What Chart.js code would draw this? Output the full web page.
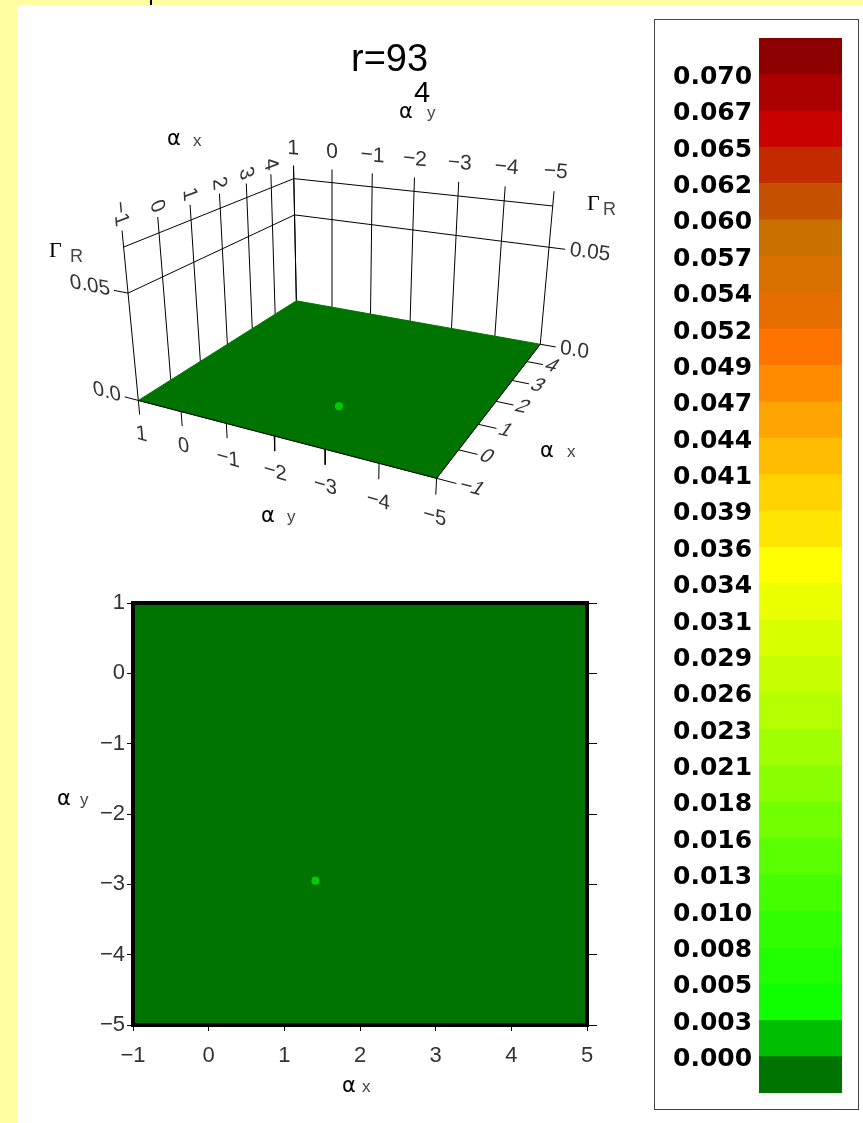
<!DOCTYPE html>
<html>
<head>
<meta charset="utf-8">
<script src="https://cdn.jsdelivr.net/npm/chart.js@4.4.1/dist/chart.umd.min.js"></script>
<style>
  html, body { margin: 0; padding: 0; background: #ffffa0; }
  body { width: 863px; height: 1123px; position: relative; overflow: hidden; }
  #sheet { position: absolute; left: 17px; top: 5px; right: 0; bottom: 0; background: #fff; }
  #mark { position: absolute; left: 150px; top: 0; width: 2px; height: 5px; background: #000; }
  canvas { position: absolute; }
  #surf { left: 0; top: 0; }
  #map { left: 0; top: 575px; }
  #keybox { position: absolute; left: 654px; top: 19px; width: 203px; height: 1089px; border: 1px solid #444; background: #fff; }
  #key { left: 0; top: 0; }
</style>
</head>
<body>
<div id="sheet"></div>
<div id="mark"></div>
<canvas id="surf" width="650" height="575"></canvas>
<canvas id="map" width="650" height="548"></canvas>
<div id="keybox"><canvas id="key" width="203" height="1089"></canvas></div>

<script>
// axes of the (alpha_x, alpha_y) window
const alphaXTicks = [-1, 0, 1, 2, 3, 4, 5];
const alphaYTicks = [1, 0, -1, -2, -3, -4, -5];
const gammaTicks = [0.0, 0.05];
const gammaTickLabels = ['0.0', '0.05'];
const gammaTop = 0.07;

// Gamma_R over the window: flat
const surfaceGamma = 0.0;

// marked point
const markAlphaX = [1.41];
const markAlphaY = [-2.95];
const markAlphaX3d = [0.5];
const markAlphaY3d = [-2.49];

const titleMain = 'r=93';
const titleTail = '4';

// colour key: level boundaries and band colours (bottom band first)
const keyLevels = [0.000, 0.003, 0.005, 0.008, 0.010, 0.013, 0.016, 0.018, 0.021, 0.023,
  0.026, 0.029, 0.031, 0.034, 0.036, 0.039, 0.041, 0.044, 0.047, 0.049,
  0.052, 0.054, 0.057, 0.060, 0.062, 0.065, 0.067, 0.070];
const keyColors = ['#007400', '#00be00', '#10ff00', '#20ff00', '#30ff00', '#44ff00', '#5aff00',
  '#72ff00', '#8aff00', '#a0ff00', '#b4ff00', '#c6ff00', '#d8ff00', '#eaff00', '#ffff00',
  '#ffe600', '#ffd200', '#ffbc00', '#ffa400', '#ff8c00', '#ff7400', '#e66e00', '#d87000',
  '#c87000', '#c45000', '#c42a00', '#c80000', '#aa0000', '#8c0000'];

function levelColor(g) {
  let i = 0;
  while (i < keyLevels.length && keyLevels[i] < g) i++;
  return keyColors[i];
}

const fmt = v => (v < 0 ? '\u2212' : '') + Math.abs(v);
const tickFont = '21px "Liberation Sans"';
const tickInk = '#333';
const ink = '#000';

// ---------- perspective box ----------
const xLo = alphaXTicks[0], xHi = alphaXTicks[alphaXTicks.length - 1];
const yHi = alphaYTicks[0], yLo = alphaYTicks[alphaYTicks.length - 1];
const U = ax => (ax - xLo) / (xHi - xLo);
const V = ay => (yHi - ay) / (yHi - yLo);
const W = g => g / gammaTop;

// projective camera: unit box (u, v, w) -> canvas pixels
const cam = { a: 246.4, b: 230.6, c: 136, d: -13.1, e: 0.65, f: 402, g: 0.2919, h: -0.1629, kx: -23, ky: -172, m: -0.067 };
function proj(u, v, w) {
  const den = 1 + cam.g * u + cam.h * v + cam.m * w;
  return { x: (cam.a * u + cam.b * v + cam.c + cam.kx * w) / den,
           y: (cam.d * u + cam.e * v + cam.f + cam.ky * w) / den };
}

const surfSets = [];
function line3d(pts, order) {
  surfSets.push({ data: pts.map(p => proj(p[0], p[1], p[2])), borderColor: ink, borderWidth: 1,
    pointRadius: 0, fill: false, tension: 0, order });
}

// back walls
alphaXTicks.forEach(ax => line3d([[U(ax), 0, 0], [U(ax), 0, 1.1]], 5));
alphaYTicks.forEach(ay => line3d([[1, V(ay), 0], [1, V(ay), 1.1]], 5));
gammaTicks.filter(g => g > 0).map(W).concat([1]).forEach(w => line3d([[0, 0, w], [1, 0, w], [1, 1, w]], 5));
gammaTicks.forEach(g => {
  line3d([[0, 0, W(g)], [0, -0.055, W(g)]], 5);
  line3d([[1, 1, W(g)], [1, 1.055, W(g)]], 5);
});

// surface
const surfColor = levelColor(surfaceGamma);
surfSets.push({
  data: [[0, 0], [1, 0], [1, 1], [0, 1], [0, 0]].map(p => proj(p[0], p[1], W(surfaceGamma))),
  fill: 'shape', backgroundColor: surfColor, borderColor: surfColor, borderWidth: 1,
  pointRadius: 0, tension: 0, order: 3
});

// front edges and their ticks
line3d([[0, 0, 0], [0, 1, 0], [1, 1, 0]], 2);
alphaYTicks.forEach(ay => line3d([[0, V(ay), 0], [0, V(ay), -0.1]], 2));
alphaXTicks.slice(0, -1).forEach(ax => line3d([[U(ax), 1, 0], [U(ax), 1.055, 0]], 2));

surfSets.push({
  data: markAlphaX3d.map((x, i) => proj(U(x), V(markAlphaY3d[i]), W(surfaceGamma))),
  showLine: false, pointRadius: 4, pointBackgroundColor: '#00cc00', pointBorderWidth: 0, order: 0
});

function pairLabel(ctx, x, y, main, mainFont, sub, subFont, sx, sy) {
  ctx.save();
  ctx.textAlign = 'left';
  ctx.textBaseline = 'alphabetic';
  ctx.font = mainFont; ctx.fillStyle = '#000';
  ctx.fillText(main, x, y);
  ctx.font = subFont; ctx.fillStyle = '#444';
  ctx.fillText(sub, x + sx, y + sy);
  ctx.restore();
}
const alphaFont = '21px "DejaVu Sans"';
const subFont = '17px "Liberation Sans"';

const surfText = {
  id: 'surfText',
  afterDatasetsDraw(chart) {
    const ctx = chart.ctx, sx = chart.scales.x, sy = chart.scales.y;
    const px = p => ({ x: sx.getPixelForValue(p.x), y: sy.getPixelForValue(p.y) });
    function put(str, at, dirX, dirDown, align) {
      const o = px(proj(at[0], at[1], at[2]));
      const unit = d => {
        const q = px(proj(at[0] + d[0] * 0.01, at[1] + d[1] * 0.01, at[2] + d[2] * 0.01));
        const dx = q.x - o.x, dy = q.y - o.y, n = Math.hypot(dx, dy);
        return { x: dx / n, y: dy / n };
      };
      const ex = unit(dirX), ed = unit(dirDown);
      ctx.save();
      ctx.transform(ex.x, ex.y, ed.x, ed.y, o.x, o.y);
      ctx.font = tickFont; ctx.fillStyle = tickInk;
      ctx.textAlign = align; ctx.textBaseline = 'middle';
      ctx.fillText(str, 0, 0);
      ctx.restore();
    }
    // alpha_x along the left wall top and along the right edge
    alphaXTicks.slice(0, -1).forEach(ax => {
      put(fmt(ax), [U(ax), 0, 1.13], [0, 0, -1], [-1, 0, 0], 'right');
      put(fmt(ax), [U(ax), 1.065, 0], [0, 1, 0], [-1, 0, 0], 'left');
    });
    // alpha_y along the right wall top and along the front edge
    alphaYTicks.forEach(ay => {
      put(fmt(ay), [1, V(ay), 1.23], [0, 1, 0], [0, 0, -1], 'center');
      put(fmt(ay), [0, V(ay), -0.24], [0, 1, 0], [0, 0, -1], 'center');
    });
    // Gamma_R ticks
    gammaTicks.forEach((g, i) => {
      put(gammaTickLabels[i], [0, -0.07, W(g)], [0, 1, 0], [0, 0, -1], 'right');
      put(gammaTickLabels[i], [1, 1.07, W(g)], [0, 1, 0], [0, 0, -1], 'left');
    });

    ctx.save();
    ctx.fillStyle = '#000';
    ctx.textAlign = 'left';
    ctx.textBaseline = 'alphabetic';
    ctx.font = '38px "Liberation Sans"';
    ctx.fillText(titleMain, 351, 71);
    ctx.font = '29px "Liberation Sans"';
    ctx.fillText(titleTail, 414, 102);
    ctx.restore();

    pairLabel(ctx, 399, 118, '\u03b1', alphaFont, 'y', subFont, 28, 0);
    pairLabel(ctx, 167, 145, '\u03b1', alphaFont, 'x', subFont, 26, 1);
    pairLabel(ctx, 540, 457, '\u03b1', alphaFont, 'x', subFont, 27, 0);
    pairLabel(ctx, 261, 522, '\u03b1', alphaFont, 'y', subFont, 26, 0);
    pairLabel(ctx, 49, 257, '\u0393', '22px "Liberation Serif"', 'R', '18px "Liberation Sans"', 21, 5);
    pairLabel(ctx, 587, 210, '\u0393', '22px "Liberation Serif"', 'R', '18px "Liberation Sans"', 16, 5);
  }
};

new Chart(document.getElementById('surf'), {
  type: 'line',
  data: { datasets: surfSets },
  options: {
    responsive: false, animation: false, events: [],
    layout: { padding: 0 },
    scales: {
      x: { type: 'linear', display: false, min: 0, max: 650 },
      y: { type: 'linear', display: false, min: 0, max: 575, reverse: true }
    },
    plugins: { legend: { display: false }, tooltip: { enabled: false } }
  },
  plugins: [surfText]
});

// ---------- flat map ----------
const mapFrame = {
  id: 'mapFrame',
  afterDatasetsDraw(chart) {
    const ctx = chart.ctx, a = chart.chartArea;
    ctx.save();
    ctx.strokeStyle = '#000';
    ctx.lineWidth = 4;
    ctx.strokeRect(a.left, a.top, a.right - a.left, a.bottom - a.top);
    ctx.restore();
    pairLabel(ctx, 342, 517, '\u03b1', alphaFont, 'x', subFont, 20, 0);
    pairLabel(ctx, 57, 230, '\u03b1', alphaFont, 'y', subFont, 23, 0);
  }
};

const axisTicks = { stepSize: 1, color: tickInk, font: { family: 'Liberation Sans', size: 22 }, callback: fmt };

new Chart(document.getElementById('map'), {
  type: 'line',
  data: {
    datasets: [
      { data: markAlphaX.map((x, i) => ({ x, y: markAlphaY[i] })), showLine: false, pointRadius: 4,
        pointBackgroundColor: '#00cc00', pointBorderWidth: 0, order: 0 },
      { data: [{ x: xLo, y: yLo }, { x: xHi, y: yLo }, { x: xHi, y: yHi }, { x: xLo, y: yHi }, { x: xLo, y: yLo }],
        fill: 'shape', backgroundColor: surfColor, borderColor: surfColor, borderWidth: 1,
        pointRadius: 0, tension: 0, order: 1 }
    ]
  },
  options: {
    responsive: false, animation: false, events: [],
    layout: { padding: { left: 0, right: 53, top: 28, bottom: 0 } },
    scales: {
      x: { type: 'linear', position: 'bottom', min: xLo, max: xHi,
           ticks: Object.assign({ padding: 12 }, axisTicks),
           grid: { drawOnChartArea: false, tickLength: 6, color: '#000', tickColor: '#000' },
           border: { display: false },
           afterFit: s => { s.height = 98; } },
      y: { type: 'linear', position: 'left', min: yLo, max: yHi,
           ticks: Object.assign({ padding: 2 }, axisTicks),
           grid: { drawOnChartArea: false, tickLength: 6, color: '#000', tickColor: '#000' },
           border: { display: false },
           afterFit: s => { s.width = 133; } },
      y2: { type: 'linear', position: 'right', min: yLo, max: yHi,
            ticks: { display: false, stepSize: 1 },
            grid: { drawOnChartArea: false, tickLength: 10, color: '#000', tickColor: '#000' },
            border: { display: false },
            afterFit: s => { s.width = 10; } }
    },
    plugins: { legend: { display: false }, tooltip: { enabled: false } }
  },
  plugins: [mapFrame]
});

// ---------- colour key ----------
new Chart(document.getElementById('key'), {
  type: 'bar',
  data: {
    labels: [''],
    datasets: keyColors.map(c => ({ data: [1], backgroundColor: c, borderWidth: 0,
      barPercentage: 1, categoryPercentage: 1 }))
  },
  options: {
    responsive: false, animation: false, events: [],
    layout: { padding: { left: 18, right: 16, top: 18, bottom: 16 } },
    scales: {
      x: { display: false, stacked: true },
      y: { stacked: true, position: 'left', min: 0, max: keyColors.length,
           ticks: { stepSize: 1, autoSkip: false, crossAlign: 'far', padding: 0, labelOffset: 3, color: '#000',
                    font: { family: 'DejaVu Sans', size: 25, weight: 'bold' },
                    callback: v => (v >= 1 && v <= keyLevels.length) ? keyLevels[v - 1].toFixed(3) : '' },
           grid: { display: false },
           border: { display: false },
           afterFit: s => { s.width = 86; } }
    },
    plugins: { legend: { display: false }, tooltip: { enabled: false } }
  }
});
</script>
</body>
</html>
